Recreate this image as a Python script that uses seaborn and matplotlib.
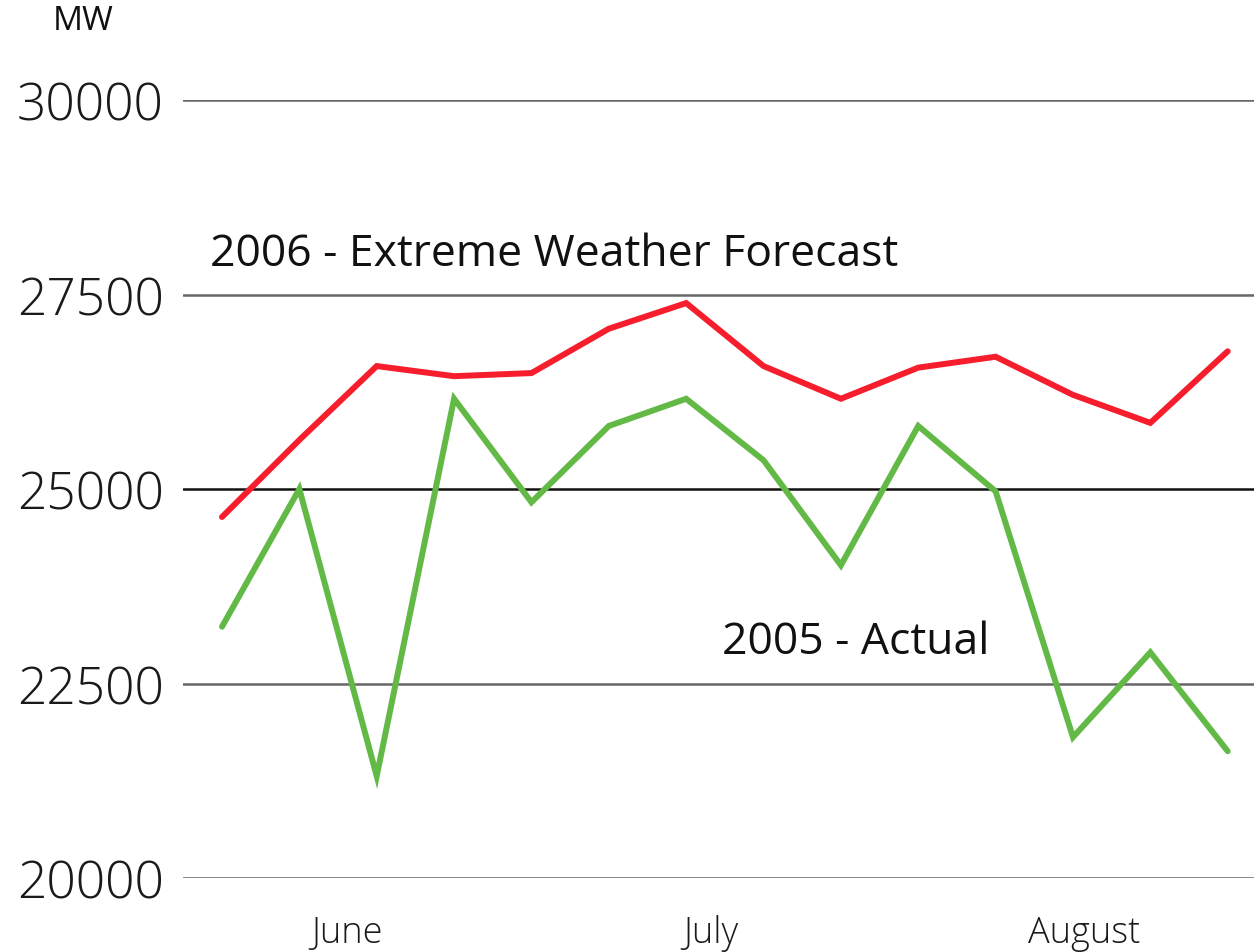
import matplotlib

matplotlib.use("Agg")
import matplotlib.pyplot as plt
import numpy as np
import pandas as pd
import seaborn as sns

# weekly peak demand, MW
weeks = list(range(14))
forecast_2006 = [24640, 25630, 26580, 26450, 26490, 27060, 27390,
                 26580, 26160, 26560, 26700, 26210, 25850, 26770]
actual_2005 = [23230, 25000, 21310, 26160, 24830, 25810, 26160,
               25370, 24020, 25810, 24970, 21810, 22900, 21630]

month_ticks = [1.61, 6.32, 11.15]
month_labels = ["June", "July", "August"]
y_ticks = [20000, 22500, 25000, 27500, 30000]

RED = "#f61e2c"
GREEN = "#63b946"

df = pd.DataFrame({
    "week": weeks * 2,
    "mw": forecast_2006 + actual_2005,
    "series": ["2006"] * len(weeks) + ["2005"] * len(weeks),
})

sns.set_theme(style="white")
plt.rcParams["font.family"] = ["Open Sans", "DejaVu Sans"]

fig = plt.figure(figsize=(12.54, 9.53), dpi=100)
ax = fig.add_axes([183 / 1254, 1 - 879 / 953, 1071 / 1254, 778 / 953])

for y in y_ticks:
    color = "#111111" if y == 25000 else "#666666"
    ax.axhline(y, color=color, lw=1.8, zorder=1)

sns.lineplot(
    data=df,
    x="week",
    y="mw",
    hue="series",
    palette={"2006": RED, "2005": GREEN},
    linewidth=4.3,
    legend=False,
    ax=ax,
    zorder=3,
)
for line in ax.get_lines():
    line.set_solid_joinstyle("miter")

ax.set_xlim(-0.504, 13.34)
ax.set_ylim(20000, 30000)
ax.set_yticks(y_ticks)
ax.set_yticklabels([str(v) for v in y_ticks], fontsize=37, fontweight="light",
                   color="#1a1a1a")
ax.set_xticks(month_ticks)
ax.set_xticklabels(month_labels, fontsize=26, fontweight="light", color="#1a1a1a")
ax.tick_params(axis="y", length=0, pad=14)
ax.tick_params(axis="x", length=0, pad=26)
ax.set_xlabel("")
ax.set_ylabel("")
sns.despine(ax=ax, left=True, bottom=True)

ax.text(-0.16, 28020, "2006 - Extreme Weather Forecast", fontsize=32,
        ha="left", va="center", color="#111111")
ax.text(6.46, 23040, "2005 - Actual", fontsize=32,
        ha="left", va="center", color="#111111")
fig.text(83 / 1254, 1 - 22 / 953, "MW", fontsize=24, ha="center", va="center",
         color="#111111")

fig.savefig("out.png", dpi=100)
